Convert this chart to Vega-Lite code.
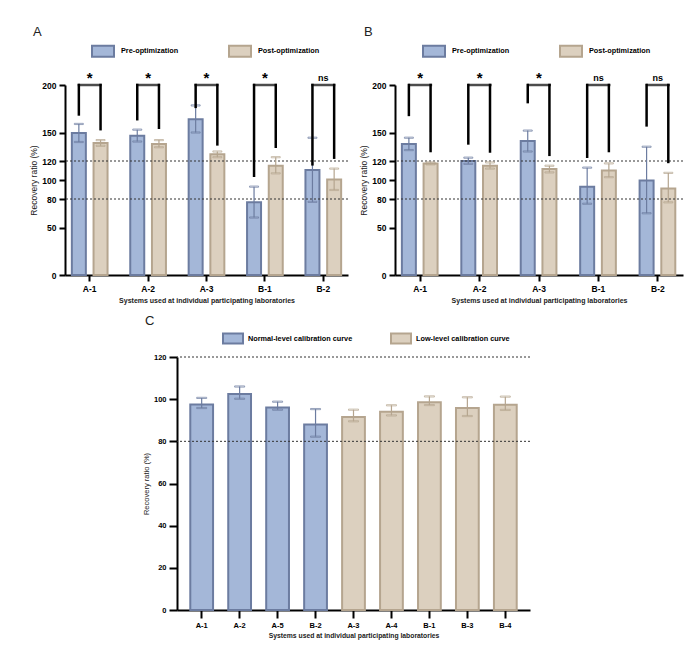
{
  "$schema": "https://vega.github.io/schema/vega-lite/v6.json",
  "background": "white",
  "padding": {"left": 29, "top": 26, "right": 5, "bottom": 5},
  "bounds": "flush",
  "spacing": 272,
  "datasets": {
    "a": [
      {"system": "A-1", "cond": "Pre-optimization", "mean": 149.5, "lo": 140, "hi": 159, "leg": 169},
      {"system": "A-1", "cond": "Post-optimization", "mean": 139, "lo": 136, "hi": 142, "leg": 153.5},
      {"system": "A-2", "cond": "Pre-optimization", "mean": 146.5, "lo": 140.5, "hi": 153, "leg": 164},
      {"system": "A-2", "cond": "Post-optimization", "mean": 138, "lo": 134.5, "hi": 142, "leg": 155},
      {"system": "A-3", "cond": "Pre-optimization", "mean": 164, "lo": 150, "hi": 178.5, "leg": 177},
      {"system": "A-3", "cond": "Post-optimization", "mean": 127, "lo": 124, "hi": 130, "leg": 137.5},
      {"system": "B-1", "cond": "Pre-optimization", "mean": 76.5, "lo": 60.5, "hi": 93, "leg": 104.5},
      {"system": "B-1", "cond": "Post-optimization", "mean": 115, "lo": 107, "hi": 124, "leg": 135},
      {"system": "B-2", "cond": "Pre-optimization", "mean": 110.5, "lo": 77, "hi": 144.5, "leg": 116.5},
      {"system": "B-2", "cond": "Post-optimization", "mean": 100.5, "lo": 89.5, "hi": 112, "leg": 123.5}
    ],
    "a_sig": [
      {"system": "A-1", "sig": "*"},
      {"system": "A-2", "sig": "*"},
      {"system": "A-3", "sig": "*"},
      {"system": "B-1", "sig": "*"},
      {"system": "B-2", "sig": "ns"}
    ],
    "b": [
      {"system": "A-1", "cond": "Pre-optimization", "mean": 138, "lo": 131.5, "hi": 144.5, "leg": 168.5},
      {"system": "A-1", "cond": "Post-optimization", "mean": 117.5, "lo": 116.5, "hi": 118.5, "leg": 130.5},
      {"system": "A-2", "cond": "Pre-optimization", "mean": 120, "lo": 117, "hi": 123.5, "leg": 138.5},
      {"system": "A-2", "cond": "Post-optimization", "mean": 115, "lo": 112, "hi": 118.5, "leg": 130},
      {"system": "A-3", "cond": "Pre-optimization", "mean": 141, "lo": 130, "hi": 152, "leg": 182},
      {"system": "A-3", "cond": "Post-optimization", "mean": 111.5, "lo": 108, "hi": 115, "leg": 126.5},
      {"system": "B-1", "cond": "Pre-optimization", "mean": 93, "lo": 75, "hi": 113, "leg": 124.5},
      {"system": "B-1", "cond": "Post-optimization", "mean": 110, "lo": 103, "hi": 117.5, "leg": 130.5},
      {"system": "B-2", "cond": "Pre-optimization", "mean": 99.5, "lo": 65, "hi": 135, "leg": 157.5},
      {"system": "B-2", "cond": "Post-optimization", "mean": 91, "lo": 76.5, "hi": 107.5, "leg": 119}
    ],
    "b_sig": [
      {"system": "A-1", "sig": "*"},
      {"system": "A-2", "sig": "*"},
      {"system": "A-3", "sig": "*"},
      {"system": "B-1", "sig": "ns"},
      {"system": "B-2", "sig": "ns"}
    ],
    "c": [
      {"system": "A-1", "curve": "Normal-level calibration curve", "mean": 97.5, "lo": 95.8, "hi": 100.6},
      {"system": "A-2", "curve": "Normal-level calibration curve", "mean": 102.5, "lo": 100.2, "hi": 106},
      {"system": "A-5", "curve": "Normal-level calibration curve", "mean": 96, "lo": 95, "hi": 98.8},
      {"system": "B-2", "curve": "Normal-level calibration curve", "mean": 88, "lo": 82.2, "hi": 95.3},
      {"system": "A-3", "curve": "Low-level calibration curve", "mean": 91.5, "lo": 89.5, "hi": 95},
      {"system": "A-4", "curve": "Low-level calibration curve", "mean": 94, "lo": 92.3, "hi": 97.1},
      {"system": "B-1", "curve": "Low-level calibration curve", "mean": 98.5, "lo": 97.2, "hi": 101.3},
      {"system": "B-3", "curve": "Low-level calibration curve", "mean": 95.8, "lo": 92, "hi": 100.9},
      {"system": "B-4", "curve": "Low-level calibration curve", "mean": 97.4, "lo": 94.9, "hi": 101.2}
    ],
    "limits": [{"v": 80}, {"v": 120}]
  },
  "resolve": {
    "scale": {"fill": "independent", "stroke": "independent"},
    "legend": {"fill": "independent", "stroke": "independent"}
  },
  "vconcat": [
    {
      "bounds": "flush",
      "spacing": 47,
      "resolve": {
        "scale": {"fill": "independent", "stroke": "independent"},
        "legend": {"fill": "independent", "stroke": "independent"}
      },
      "hconcat": [
        {
          "width": 283,
          "height": 190,
          "title": {"text": "A", "anchor": "start", "frame": "group", "dx": -32, "offset": 0},
          "layer": [
            {
              "data": {"name": "a"},
              "mark": {"type": "bar", "strokeWidth": 2},
              "encoding": {
                "x": {"field": "system", "type": "nominal", "sort": null,
                      "scale": {"paddingInner": 0.2, "paddingOuter": 0.023},
                      "axis": {"title": "Systems used at individual participating laboratories", "labelAngle": 0}},
                "xOffset": {"field": "cond", "type": "nominal", "sort": ["Pre-optimization", "Post-optimization"],
                            "scale": {"paddingInner": 0.355, "paddingOuter": 0.254}},
                "y": {"field": "mean", "type": "quantitative",
                      "scale": {"domain": [0, 200], "nice": false},
                      "axis": {"title": "Recovery ratio (%)", "values": [0, 50, 80, 100, 120, 150, 200], "tickCount": 20}},
                "fill": {"field": "cond", "type": "nominal",
                         "scale": {"domain": ["Pre-optimization", "Post-optimization"], "range": ["#a4b7d8", "#dcd0bf"]},
                         "legend": {"orient": "none", "legendX": 26, "legendY": -46, "direction": "horizontal", "title": null,
                                    "symbolType": "M-1,-0.5H1V0.5H-1Z", "symbolSize": 484, "symbolStrokeWidth": 2,
                                    "labelFontSize": 7.3, "labelFontWeight": "bold", "labelOffset": 6, "columnPadding": 46}},
                "stroke": {"field": "cond", "type": "nominal",
                           "scale": {"domain": ["Pre-optimization", "Post-optimization"], "range": ["#6c7ca0", "#b5a58f"]},
                           "legend": {"orient": "none", "legendX": 26, "legendY": -46, "direction": "horizontal", "title": null,
                                      "symbolType": "M-1,-0.5H1V0.5H-1Z", "symbolSize": 484, "symbolStrokeWidth": 2,
                                      "labelFontSize": 7.3, "labelFontWeight": "bold", "labelOffset": 6, "columnPadding": 46}}
              }
            },
            {
              "data": {"name": "limits"},
              "mark": {"type": "rule", "strokeDash": [2, 2], "strokeWidth": 1, "color": "#333333"},
              "encoding": {"y": {"field": "v", "type": "quantitative"}}
            },
            {
              "data": {"name": "a"},
              "mark": {"type": "rule", "strokeWidth": 1.2},
              "encoding": {
                "x": {"field": "system", "type": "nominal", "sort": null},
                "xOffset": {"field": "cond", "type": "nominal", "sort": ["Pre-optimization", "Post-optimization"]},
                "y": {"field": "lo", "type": "quantitative"},
                "y2": {"field": "hi"},
                "stroke": {"field": "cond", "type": "nominal", "legend": null}
              }
            },
            {
              "data": {"name": "a"},
              "mark": {"type": "tick", "thickness": 1.2, "size": 9},
              "encoding": {
                "x": {"field": "system", "type": "nominal", "sort": null},
                "xOffset": {"field": "cond", "type": "nominal", "sort": ["Pre-optimization", "Post-optimization"]},
                "y": {"field": "hi", "type": "quantitative"},
                "color": {"value": null},
                "stroke": {"field": "cond", "type": "nominal", "legend": null}
              }
            },
            {
              "data": {"name": "a"},
              "mark": {"type": "tick", "thickness": 1.2, "size": 9},
              "encoding": {
                "x": {"field": "system", "type": "nominal", "sort": null},
                "xOffset": {"field": "cond", "type": "nominal", "sort": ["Pre-optimization", "Post-optimization"]},
                "y": {"field": "lo", "type": "quantitative"},
                "color": {"value": null},
                "stroke": {"field": "cond", "type": "nominal", "legend": null}
              }
            },
            {
              "data": {"name": "a"},
              "mark": {"type": "rule", "strokeWidth": 2.5, "color": "black", "strokeCap": "square"},
              "encoding": {
                "x": {"field": "system", "type": "nominal", "sort": null},
                "xOffset": {"field": "cond", "type": "nominal", "sort": ["Pre-optimization", "Post-optimization"]},
                "y": {"field": "leg", "type": "quantitative"},
                "y2": {"datum": 200}
              }
            },
            {
              "data": {"name": "a_sig"},
              "mark": {"type": "tick", "thickness": 2.5, "size": 24, "color": "black"},
              "encoding": {
                "x": {"field": "system", "type": "nominal", "sort": null},
                "y": {"datum": 200}
              }
            },
            {
              "data": {"name": "a_sig"},
              "mark": {"type": "text", "fontWeight": "bold", "baseline": "middle", "dy": -7, "color": "black"},
              "encoding": {
                "x": {"field": "system", "type": "nominal", "sort": null},
                "y": {"datum": 200},
                "text": {"field": "sig"},
                "size": {"field": "sig", "type": "nominal", "scale": {"domain": ["*", "ns"], "range": [15, 9]}, "legend": null}
              }
            }
          ]
        },
        {
          "width": 288,
          "height": 190,
          "title": {"text": "B", "anchor": "start", "frame": "group", "dx": -31, "offset": 0},
          "layer": [
            {
              "data": {"name": "b"},
              "mark": {"type": "bar", "strokeWidth": 2},
              "encoding": {
                "x": {"field": "system", "type": "nominal", "sort": null,
                      "scale": {"paddingInner": 0.2, "paddingOuter": 0.023},
                      "axis": {"title": "Systems used at individual participating laboratories", "labelAngle": 0}},
                "xOffset": {"field": "cond", "type": "nominal", "sort": ["Pre-optimization", "Post-optimization"],
                            "scale": {"paddingInner": 0.355, "paddingOuter": 0.254}},
                "y": {"field": "mean", "type": "quantitative",
                      "scale": {"domain": [0, 200], "nice": false},
                      "axis": {"title": "Recovery ratio (%)", "values": [0, 50, 80, 100, 120, 150, 200], "tickCount": 20}},
                "fill": {"field": "cond", "type": "nominal",
                         "scale": {"domain": ["Pre-optimization", "Post-optimization"], "range": ["#a4b7d8", "#dcd0bf"]},
                         "legend": {"orient": "none", "legendX": 27, "legendY": -46, "direction": "horizontal", "title": null,
                                    "symbolType": "M-1,-0.5H1V0.5H-1Z", "symbolSize": 484, "symbolStrokeWidth": 2,
                                    "labelFontSize": 7.3, "labelFontWeight": "bold", "labelOffset": 6, "columnPadding": 46}},
                "stroke": {"field": "cond", "type": "nominal",
                           "scale": {"domain": ["Pre-optimization", "Post-optimization"], "range": ["#6c7ca0", "#b5a58f"]},
                           "legend": {"orient": "none", "legendX": 27, "legendY": -46, "direction": "horizontal", "title": null,
                                      "symbolType": "M-1,-0.5H1V0.5H-1Z", "symbolSize": 484, "symbolStrokeWidth": 2,
                                      "labelFontSize": 7.3, "labelFontWeight": "bold", "labelOffset": 6, "columnPadding": 46}}
              }
            },
            {
              "data": {"name": "limits"},
              "mark": {"type": "rule", "strokeDash": [2, 2], "strokeWidth": 1, "color": "#333333"},
              "encoding": {"y": {"field": "v", "type": "quantitative"}}
            },
            {
              "data": {"name": "b"},
              "mark": {"type": "rule", "strokeWidth": 1.2},
              "encoding": {
                "x": {"field": "system", "type": "nominal", "sort": null},
                "xOffset": {"field": "cond", "type": "nominal", "sort": ["Pre-optimization", "Post-optimization"]},
                "y": {"field": "lo", "type": "quantitative"},
                "y2": {"field": "hi"},
                "stroke": {"field": "cond", "type": "nominal", "legend": null}
              }
            },
            {
              "data": {"name": "b"},
              "mark": {"type": "tick", "thickness": 1.2, "size": 9},
              "encoding": {
                "x": {"field": "system", "type": "nominal", "sort": null},
                "xOffset": {"field": "cond", "type": "nominal", "sort": ["Pre-optimization", "Post-optimization"]},
                "y": {"field": "hi", "type": "quantitative"},
                "color": {"value": null},
                "stroke": {"field": "cond", "type": "nominal", "legend": null}
              }
            },
            {
              "data": {"name": "b"},
              "mark": {"type": "tick", "thickness": 1.2, "size": 9},
              "encoding": {
                "x": {"field": "system", "type": "nominal", "sort": null},
                "xOffset": {"field": "cond", "type": "nominal", "sort": ["Pre-optimization", "Post-optimization"]},
                "y": {"field": "lo", "type": "quantitative"},
                "color": {"value": null},
                "stroke": {"field": "cond", "type": "nominal", "legend": null}
              }
            },
            {
              "data": {"name": "b"},
              "mark": {"type": "rule", "strokeWidth": 2.5, "color": "black", "strokeCap": "square"},
              "encoding": {
                "x": {"field": "system", "type": "nominal", "sort": null},
                "xOffset": {"field": "cond", "type": "nominal", "sort": ["Pre-optimization", "Post-optimization"]},
                "y": {"field": "leg", "type": "quantitative"},
                "y2": {"datum": 200}
              }
            },
            {
              "data": {"name": "b_sig"},
              "mark": {"type": "tick", "thickness": 2.5, "size": 24, "color": "black"},
              "encoding": {
                "x": {"field": "system", "type": "nominal", "sort": null},
                "y": {"datum": 200}
              }
            },
            {
              "data": {"name": "b_sig"},
              "mark": {"type": "text", "fontWeight": "bold", "baseline": "middle", "dy": -7, "color": "black"},
              "encoding": {
                "x": {"field": "system", "type": "nominal", "sort": null},
                "y": {"datum": 200},
                "text": {"field": "sig"},
                "size": {"field": "sig", "type": "nominal", "scale": {"domain": ["*", "ns"], "range": [15, 9]}, "legend": null}
              }
            }
          ]
        }
      ]
    },
    {
      "bounds": "flush",
      "spacing": 10,
      "resolve": {
        "scale": {"fill": "independent", "stroke": "independent"},
        "legend": {"fill": "independent", "stroke": "independent"}
      },
      "hconcat": [
        {
          "width": 102,
          "height": 10,
          "data": {"values": [{}]},
          "mark": {"type": "point", "opacity": 0},
          "encoding": {}
        },
        {
          "width": 353,
          "height": 253,
          "title": {"text": "C", "anchor": "start", "frame": "group", "dx": -32, "offset": 0},
          "layer": [
            {
              "data": {"name": "c"},
              "mark": {"type": "bar", "strokeWidth": 2},
              "encoding": {
                "x": {"field": "system", "type": "nominal", "sort": null,
                      "scale": {"paddingInner": 0.4, "paddingOuter": 0.35},
                      "axis": {"title": "Systems used at individual participating laboratories", "labelAngle": 0,
                               "labelFontSize": 7.5, "titleFontSize": 6.8, "tickSize": 8}},
                "y": {"field": "mean", "type": "quantitative",
                      "scale": {"domain": [0, 120], "nice": false},
                      "axis": {"title": "Recovery ratio (%)", "values": [0, 20, 40, 60, 80, 100, 120], "tickCount": 20,
                               "labelFontSize": 7.5, "titleFontSize": 7.5, "tickSize": 8}},
                "fill": {"field": "curve", "type": "nominal",
                         "scale": {"domain": ["Normal-level calibration curve", "Low-level calibration curve"], "range": ["#a4b7d8", "#dcd0bf"]},
                         "legend": {"orient": "none", "legendX": 45, "legendY": -29.5, "direction": "horizontal", "title": null,
                                    "symbolType": "M-1,-0.5H1V0.5H-1Z", "symbolSize": 400, "symbolStrokeWidth": 2,
                                    "labelFontSize": 7.3, "labelFontWeight": "bold", "labelOffset": 4, "columnPadding": 34}},
                "stroke": {"field": "curve", "type": "nominal",
                           "scale": {"domain": ["Normal-level calibration curve", "Low-level calibration curve"], "range": ["#6c7ca0", "#b5a58f"]},
                           "legend": {"orient": "none", "legendX": 45, "legendY": -29.5, "direction": "horizontal", "title": null,
                                      "symbolType": "M-1,-0.5H1V0.5H-1Z", "symbolSize": 400, "symbolStrokeWidth": 2,
                                      "labelFontSize": 7.3, "labelFontWeight": "bold", "labelOffset": 4, "columnPadding": 34}}
              }
            },
            {
              "data": {"name": "limits"},
              "mark": {"type": "rule", "strokeDash": [2, 2], "strokeWidth": 1, "color": "#333333"},
              "encoding": {"y": {"field": "v", "type": "quantitative"}}
            },
            {
              "data": {"name": "c"},
              "mark": {"type": "rule", "strokeWidth": 1.2},
              "encoding": {
                "x": {"field": "system", "type": "nominal", "sort": null},
                "y": {"field": "lo", "type": "quantitative"},
                "y2": {"field": "hi"},
                "stroke": {"field": "curve", "type": "nominal", "legend": null}
              }
            },
            {
              "data": {"name": "c"},
              "mark": {"type": "tick", "thickness": 1.2, "size": 10},
              "encoding": {
                "x": {"field": "system", "type": "nominal", "sort": null},
                "y": {"field": "hi", "type": "quantitative"},
                "color": {"value": null},
                "stroke": {"field": "curve", "type": "nominal", "legend": null}
              }
            },
            {
              "data": {"name": "c"},
              "mark": {"type": "tick", "thickness": 1.2, "size": 10},
              "encoding": {
                "x": {"field": "system", "type": "nominal", "sort": null},
                "y": {"field": "lo", "type": "quantitative"},
                "color": {"value": null},
                "stroke": {"field": "curve", "type": "nominal", "legend": null}
              }
            }
          ]
        }
      ]
    }
  ],
  "config": {
    "font": "Liberation Sans",
    "view": {"stroke": null},
    "title": {"fontSize": 13, "fontWeight": "normal", "color": "#222222", "font": "Liberation Sans"},
    "axis": {
      "grid": false,
      "domainColor": "black",
      "domainWidth": 2,
      "tickColor": "black",
      "tickWidth": 2,
      "tickSize": 6,
      "labelColor": "black",
      "labelFont": "Liberation Sans",
      "labelFontWeight": "bold",
      "labelFontSize": 8.5,
      "labelPadding": 3,
      "labelOverlap": false,
      "titleFont": "Liberation Sans",
      "titleColor": "#222222"
    },
    "axisX": {"titleFontSize": 7, "titleFontWeight": "bold", "titlePadding": 4},
    "axisY": {"titleFontSize": 8.5, "titleFontWeight": "normal", "titlePadding": 3},
    "legend": {"labelColor": "black", "labelFont": "Liberation Sans", "padding": 0}
  }
}
